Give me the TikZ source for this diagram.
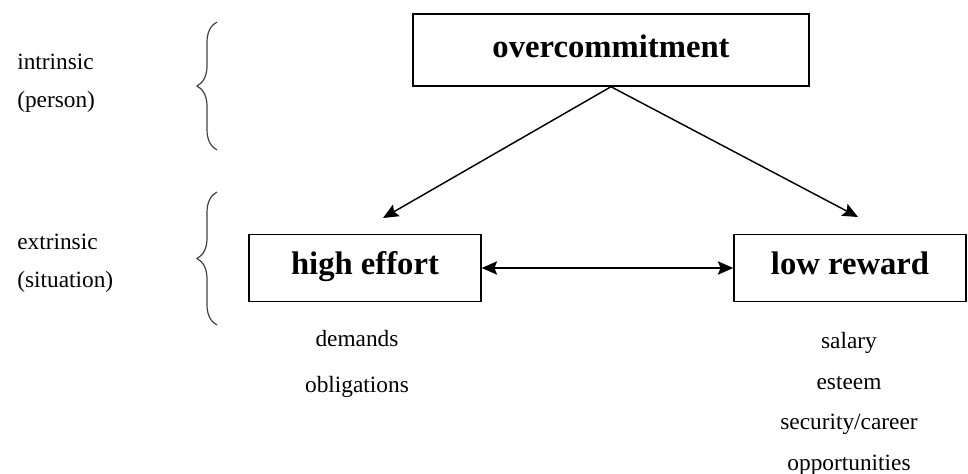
\documentclass[tikz,border=0pt]{standalone}
\usepackage{fontspec}
\setmainfont{Liberation Serif}
\usepackage{tikz}
\usetikzlibrary{arrows.meta, positioning, decorations.pathreplacing}

\begin{document}
\begin{tikzpicture}[
    x=0.75pt, y=-0.75pt,
    >={Stealth[length=11.5pt, width=10pt, inset=2pt]},
    box/.style={rectangle, draw=black, line width=1.1pt, fill=white, minimum height=#1, inner sep=0pt, text height=17pt, text depth=6.5pt, font=\fontsize{24.5}{28}\selectfont\bfseries},
    side/.style={anchor=west, inner sep=0pt, font=\fontsize{17.5}{20}\selectfont},
    items/.style={align=center, inner sep=0pt, font=\fontsize{17.5}{#1}\selectfont},
    link/.style={line width=1.1pt},
    curly/.style={decorate, decoration={brace, amplitude=15pt}, line width=0.9pt, draw=black!75},
]
\useasboundingbox (0,0) rectangle (968,474);

\node[box=54pt, minimum width=297pt, text depth=5pt] (oc) at (611,50) {overcommitment};
\node[box=50.5pt, minimum width=174pt] (he) at (365,268) {high effort};
\node[box=50.5pt, minimum width=174pt] (lr) at (850,268) {low reward};

\coordinate (hetip) at (383,218);
\coordinate (lrtip) at (858,217);
\draw[link, ->] (oc.south) -- (hetip);
\draw[link, ->] (oc.south) -- (lrtip);
\draw[link, <->] (he.east) -- (lr.west);

% intrinsic / extrinsic
\node[side] (intr) at (17,62) {intrinsic};
\node[side] (pers) at (17,102) {(person)};
\node[side] (extr) at (17,242) {extrinsic};
\node[side] (situ) at (17,282) {(situation)};
\draw[curly] (217,150) -- (217,22);
\draw[curly] (217,325) -- (217,192);

\node[items=35pt] (effitems) at (357,364) {demands\\obligations};
\node[items=30.5pt] (revitems) at (849,404) {salary\\esteem\\security/career\\opportunities};
\end{tikzpicture}
\end{document}
